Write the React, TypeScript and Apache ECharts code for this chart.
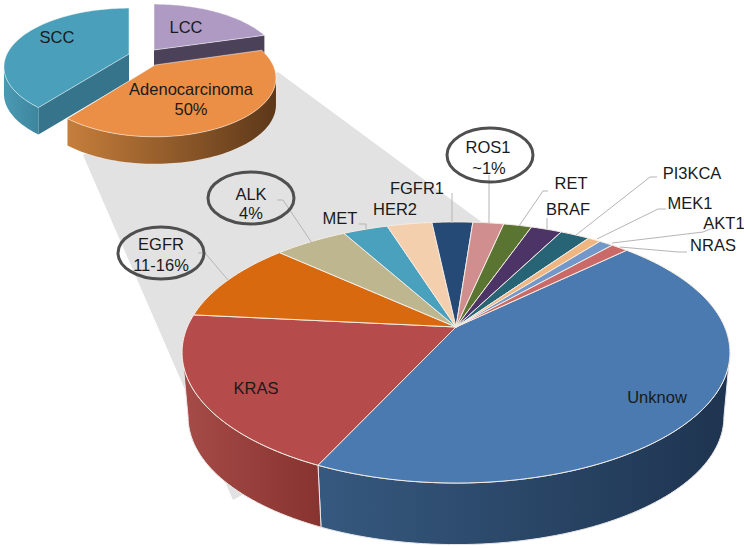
import React, { useEffect, useRef } from "react";
import * as echarts from "echarts";

// ---- data ----
const mutationNames = ["Unknow","KRAS","EGFR","ALK","MET","HER2","FGFR1","ROS1","RET","BRAF","PI3KCA","MEK1","AKT1","NRAS"];
const mutationValues = [44.1,19.6,10.1,5.2,3.2,3.2,2.9,2.2,2.0,2.2,2.1,0.9,1.0,1.2];
const histologyNames = ["LCC","SCC","Adenocarcinoma"];
const histologyValues = [20.5,39.5,40];

// ---- styles & layout ----
const mutationColors = ["#4a7ab0","#b54c4b","#d9690f","#bdb68f","#4aa1bd","#f4cfae","#254a75","#d08e8e","#5a7432","#4c3566","#266476","#f0b681","#7198c8","#c96a68"];
const mainGeo = { cx: 456, cy: 327, A: 125.6, k: 0.195, R: 268.7, depth: 65, shrink: 0.978, start: 46.1 };

const upStyle: Record<string, any> = {
  LCC: { cx: 154, cy: 50, R: 122, top: "#ae9ac2", radial: ["#4b4259"], wall: null },
  SCC: { cx: 129, cy: 54, R: 122, top: "#4a9fbb", radial: ["#35748b"], wall: ["#4b9ab4", "#3d859d"] },
  Adenocarcinoma: { cx: 155, cy: 65, R: 118, top: "#ea8f45", radial: [], wall: ["#c67e3b", "#5c3819"] },
};
const upShape = { A: 56, k: 0.22, depth: 27 };

const FONT = '16.5px "Liberation Sans", Arial, sans-serif';

const texts: [string, number, number][] = [
  ["SCC", 57, 37], ["LCC", 186, 27], ["Adenocarcinoma", 191, 89], ["50%", 191, 109],
  ["KRAS", 256, 388], ["Unknow", 657, 397], ["EGFR", 161, 244], ["11-16%", 161, 265],
  ["ALK", 251, 194], ["4%", 251, 213], ["MET", 340, 218], ["HER2", 395, 209],
  ["FGFR1", 417, 188], ["ROS1", 488, 147], ["~1%", 489, 168], ["RET", 571, 183],
  ["BRAF", 568, 209], ["PI3KCA", 692, 173], ["MEK1", 690, 203], ["AKT1", 724, 223], ["NRAS", 713, 245],
];
const leaders: number[][][] = [
  [[198,253],[205,253],[228,280]], [[277,200],[283,200],[312,243]], [[359,224],[366,224],[366,229]],
  [[452,193],[452,223]], [[489,175],[489,223]], [[548,191],[543,191],[519,226]], [[547,218],[547,229]],
  [[657,177],[650,177],[576,235]], [[666,209],[658,209],[597,239]], [[713,228],[703,232],[612,243]],
  [[687,252],[678,252],[620,247]],
];
const rings: [number, number, number, number][] = [[161,253,43,26],[251,198,43,26],[490,155,43,27]];
const wedge = [[278,72],[483,223],[300,400],[242,495],[233,500],[83,155]];

function pt(g: any, cx: number, cy: number, deg: number, dy = 0, shrink = 1): number[] {
  const a = (deg * Math.PI) / 180;
  const u = Math.sin(a), v = -Math.cos(a);
  const s = 1 / (1 - g.k * v);
  return [cx + g.R * u * s * shrink, cy + g.A * v * s * shrink + dy];
}
function arc(g: any, cx: number, cy: number, a0: number, a1: number, dy = 0, shrink = 1): number[][] {
  const n = Math.max(4, Math.ceil(Math.abs(a1 - a0) / 1.5));
  const out: number[][] = [];
  for (let i = 0; i <= n; i++) out.push(pt(g, cx, cy, a0 + ((a1 - a0) * i) / n, dy, shrink));
  return out;
}
function grad(c: string[]) {
  return new echarts.graphic.LinearGradient(0, 0, 1, 0, [
    { offset: 0, color: c[0] },
    { offset: 1, color: c[1] },
  ]);
}
function spans(values: number[], start: number) {
  const total = values.reduce((a, b) => a + b, 0);
  let cur = start;
  return values.map((v) => {
    const a0 = cur;
    cur += (v / total) * 360;
    return [a0, cur];
  });
}
// the part of the rim that faces the viewer, between the two silhouette tangents
function frontRange(k: number, a0: number, a1: number): number[] | null {
  const t = (Math.acos(-k) * 180) / Math.PI;
  const lo = Math.max(a0, t);
  const hi = Math.min(a1, 360 - t);
  return lo < hi ? [lo, hi] : null;
}

const mainWallColors: Record<string, string[]> = {
  Unknow: ["#36597f", "#1e3450"],
  KRAS: ["#a64b48", "#87332f"],
};

export default function App() {
  const ref = useRef<HTMLDivElement>(null);
  useEffect(() => {
    document.body.style.margin = "0";
    const chart = echarts.init(ref.current!, undefined, { renderer: "svg" });
    const mainSpans = spans(mutationValues, mainGeo.start);
    // histology order round the pie: LCC, Adenocarcinoma, SCC
    const upOrder = [0, 2, 1];
    const upSp = spans(upOrder.map((i) => histologyValues[i]), 0);
    const spanOf = (i: number) => upSp[upOrder.indexOf(i)];

    const option: any = {
      animation: false,
      backgroundColor: "#ffffff",
      tooltip: { show: false },
      series: [
        {
          type: "custom",
          coordinateSystem: "none",
          z: 2,
          silent: true,
          data: mutationValues.map((v, i) => ({ name: mutationNames[i], value: [v] })),
          renderItem: (p: any) => {
            const i = p.dataIndex;
            const [a0, a1] = mainSpans[i];
            const g = mainGeo;
            const wc = mainWallColors[mutationNames[i]];
            const r = frontRange(g.k, a0, a1);
            if (!wc || !r) return { type: "group", children: [] };
            const top = arc(g, g.cx, g.cy, r[0], r[1]);
            const low = arc(g, g.cx, g.cy, r[0], r[1], g.depth, g.shrink).reverse();
            return {
              type: "polygon",
              shape: { points: top.concat(low) },
              style: { fill: grad(wc), stroke: "#e8e8e8", lineWidth: 1 },
            };
          },
        },
        {
          type: "custom",
          coordinateSystem: "none",
          z: 3,
          silent: true,
          data: mutationValues.map((v, i) => ({ name: mutationNames[i], value: [v] })),
          renderItem: (p: any) => {
            const i = p.dataIndex;
            const [a0, a1] = mainSpans[i];
            const g = mainGeo;
            return {
              type: "polygon",
              shape: { points: [[g.cx, g.cy]].concat(arc(g, g.cx, g.cy, a0, a1)) },
              style: { fill: mutationColors[i], stroke: "#f4ece4", lineWidth: 1 },
            };
          },
        },
        {
          type: "custom",
          coordinateSystem: "none",
          z: 4,
          silent: true,
          data: histologyValues.map((v, i) => ({ name: histologyNames[i], value: [v] })),
          renderItem: (p: any) => {
            const i = p.dataIndex;
            const [a0, a1] = spanOf(i);
            const st = upStyle[histologyNames[i]];
            const g = { ...upShape, R: st.R };
            const c = [st.cx, st.cy];
            const children: any[] = [];
            const r = st.wall && frontRange(g.k, a0, a1);
            if (r) {
              const t = arc(g, st.cx, st.cy, r[0], r[1]);
              const l = arc(g, st.cx, st.cy, r[0], r[1], g.depth).reverse();
              children.push({ type: "polygon", shape: { points: t.concat(l) }, style: { fill: grad(st.wall) } });
            }
            st.radial.forEach((col: string) => {
              const e = i === 1 ? a0 : a1;
              children.push({
                type: "polygon",
                shape: { points: [c, [c[0], c[1] + g.depth], pt(g, st.cx, st.cy, e, g.depth), pt(g, st.cx, st.cy, e)] },
                style: { fill: col },
              });
            });
            children.push({
              type: "polygon",
              shape: { points: [c].concat(arc(g, st.cx, st.cy, a0, a1)) },
              style: { fill: st.top, stroke: "#ffffff", lineWidth: 0.5 },
            });
            return { type: "group", children };
          },
        },
      ],
      graphic: [
        {
          type: "polygon",
          z: 0,
          silent: true,
          shape: { points: wedge },
          style: { fill: "#e2e2e2" },
        },
        ...leaders.map((pts) => ({
          type: "polyline",
          z: 10,
          silent: true,
          shape: { points: pts },
          style: { stroke: "#b5b5b5", lineWidth: 1, fill: "none" },
        })),
        ...rings.map(([cx, cy, rx, ry]) => ({
          type: "ellipse",
          z: 11,
          silent: true,
          shape: { cx, cy, rx, ry },
          style: { fill: "none", stroke: "#4f4f4f", lineWidth: 3 },
        })),
        ...texts.map(([text, x, y]) => ({
          type: "text",
          z: 12,
          silent: true,
          x,
          y,
          style: { text, font: FONT, fill: "#1a1a1a", textAlign: "center", textVerticalAlign: "middle" },
        })),
      ],
    };
    chart.setOption(option);
    return () => chart.dispose();
  }, []);
  return <div ref={ref} style={{ width: 744, height: 549 }} />;
}
